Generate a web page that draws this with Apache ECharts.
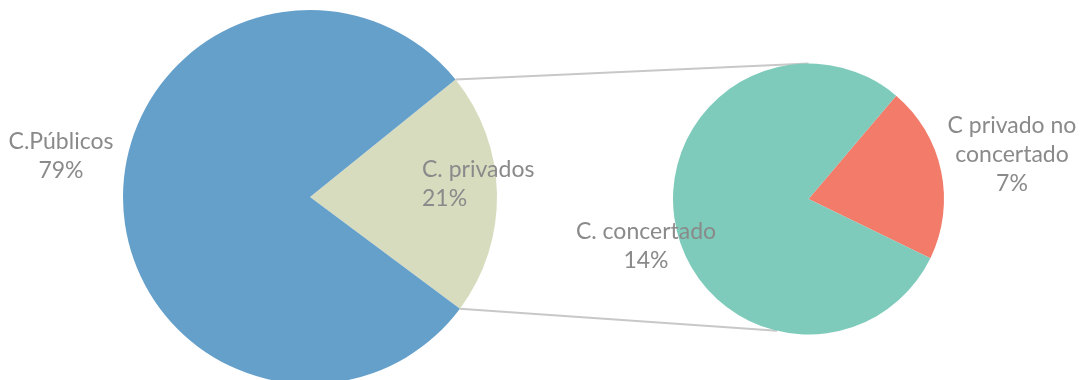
<!DOCTYPE html>
<html>
<head>
<meta charset="utf-8">
<script src="https://cdn.jsdelivr.net/npm/echarts@6/dist/echarts.min.js"></script>
<style>
html,body{margin:0;padding:0;background:#fff;}
#chart{width:1083px;height:380px;}
</style>
</head>
<body>
<div id="chart"></div>
<script>
// Main pie
const mainNames = ['C. privados', 'C.Públicos'];
const mainValues = [21, 79];
const mainLabels = ['21%', '79%'];
// Secondary pie (breakdown of C. privados) — slice shares as drawn
const subNames = ['C privado no\nconcertado', 'C. concertado'];
const subValues = [21, 79];
const subLabels = ['7%', '14%'];

const mainColors = ['#d8dcbf', '#65a0cb'];
const subColors = ['#f27b6a', '#7ecbbb'];

const MC = [310, 197], MR = 187, MSTART = 38.9;
const SC = [808.5, 199], SR = 135.5, SSTART = 49.7;

const labelPos = {
  'C. privados': {x: 422, y: 184, align: 'left'},
  'C.Públicos': {x: 61, y: 156, align: 'center'},
  'C privado no\nconcertado': {x: 1012, y: 155, align: 'center'},
  'C. concertado': {x: 646, y: 246, align: 'center'}
};

function mkData(names, values, colors) {
  return names.map((n, i) => ({name: n, value: values[i], itemStyle: {color: colors[i]}}));
}

// connector endpoints derived from main pie geometry
const sum = mainValues.reduce((a, b) => a + b, 0);
const a1 = MSTART * Math.PI / 180;
const a2 = (MSTART - 360 * mainValues[0] / sum) * Math.PI / 180;
const p1 = [MC[0] + MR * Math.cos(a1), MC[1] - MR * Math.sin(a1)];
const p2 = [MC[0] + MR * Math.cos(a2), MC[1] - MR * Math.sin(a2)];
const b1 = 90 * Math.PI / 180, b2 = -103.4 * Math.PI / 180;
const q1 = [SC[0] + SR * Math.cos(b1), SC[1] - SR * Math.sin(b1)];
const q2 = [SC[0] + SR * Math.cos(b2), SC[1] - SR * Math.sin(b2)];

const lineStyle = {stroke: '#c8c8c8', lineWidth: 2};
const graphics = [
  {type: 'line', z: 0, shape: {x1: p1[0], y1: p1[1], x2: q1[0], y2: q1[1]}, style: lineStyle},
  {type: 'line', z: 0, shape: {x1: p2[0], y1: p2[1], x2: q2[0], y2: q2[1]}, style: lineStyle}
];
function addLabels(names, labels) {
  names.forEach((n, i) => {
    const pos = labelPos[n];
    graphics.push({
      type: 'text', z: 10, x: pos.x, y: pos.y,
      style: {
        text: n + '\n' + labels[i],
        fill: '#8a8a8a', fontSize: 23, fontFamily: 'Lato', lineHeight: 29,
        align: pos.align, verticalAlign: 'middle'
      }
    });
  });
}
addLabels(mainNames, mainLabels);
addLabels(subNames, subLabels);

const chart = echarts.init(document.getElementById('chart'), null, {renderer: 'canvas'});
chart.setOption({
  animation: false,
  backgroundColor: '#fff',
  graphic: graphics,
  series: [
    {
      type: 'pie', center: MC, radius: MR, startAngle: MSTART, clockwise: true,
      data: mkData(mainNames, mainValues, mainColors),
      label: {show: false}, labelLine: {show: false},
      emphasis: {disabled: true}
    },
    {
      type: 'pie', center: SC, radius: SR, startAngle: SSTART, clockwise: true,
      data: mkData(subNames, subValues, subColors),
      label: {show: false}, labelLine: {show: false},
      emphasis: {disabled: true}
    }
  ]
});
</script>
</body>
</html>
